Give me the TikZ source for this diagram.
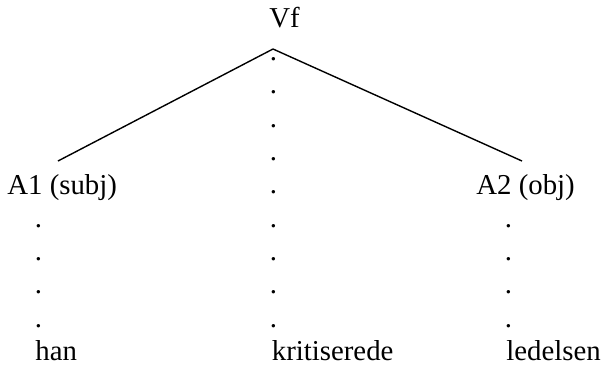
\documentclass[tikz,border=0pt]{standalone}
\usepackage{fontspec}
\setmainfont{Liberation Serif}
\usepackage{tikz}

\begin{document}
\begin{tikzpicture}[x=0.5pt,y=-0.5pt,
  every node/.style={anchor=base west,inner sep=0pt,font=\fontsize{14.4}{17}\selectfont}]
\useasboundingbox (0,0) rectangle (601,365);

\coordinate (top) at (273,49);
\coordinate (subj) at (58,161);
\coordinate (obj) at (522,161);

\draw[black,line width=0.7pt] (top) to (subj);
\draw[black,line width=0.7pt] (top) to (obj);

\node (vf) at (269,27) {Vf};
\node (a1) at (7,194) {A1 (subj)};
\node (a2) at (476,194) {A2 (obj)};

% midten
\node (m1) at (269.5,60.4) {.};
\node (m2) at (269.5,93.8) {.};
\node (m3) at (269.5,127.1) {.};
\node (m4) at (269.5,160.5) {.};
\node (m5) at (269.5,193.8) {.};
\node (m6) at (269.5,227.2) {.};
\node (m7) at (269.5,260.5) {.};
\node (m8) at (269.5,293.9) {.};
\node (m9) at (269.5,327.2) {.};

% venstre
\node (v1) at (34.5,227.2) {.};
\node (v2) at (34.5,260.5) {.};
\node (v3) at (34.5,293.9) {.};
\node (v4) at (34.5,327.2) {.};

% hoejre
\node (h1) at (504.5,227.2) {.};
\node (h2) at (504.5,260.5) {.};
\node (h3) at (504.5,293.9) {.};
\node (h4) at (504.5,327.2) {.};

\node (han) at (35,360.6) {han};
\node (krit) at (271.5,360.6) {kritiserede};
\node (led) at (506,360.6) {ledelsen};
\end{tikzpicture}
\end{document}
